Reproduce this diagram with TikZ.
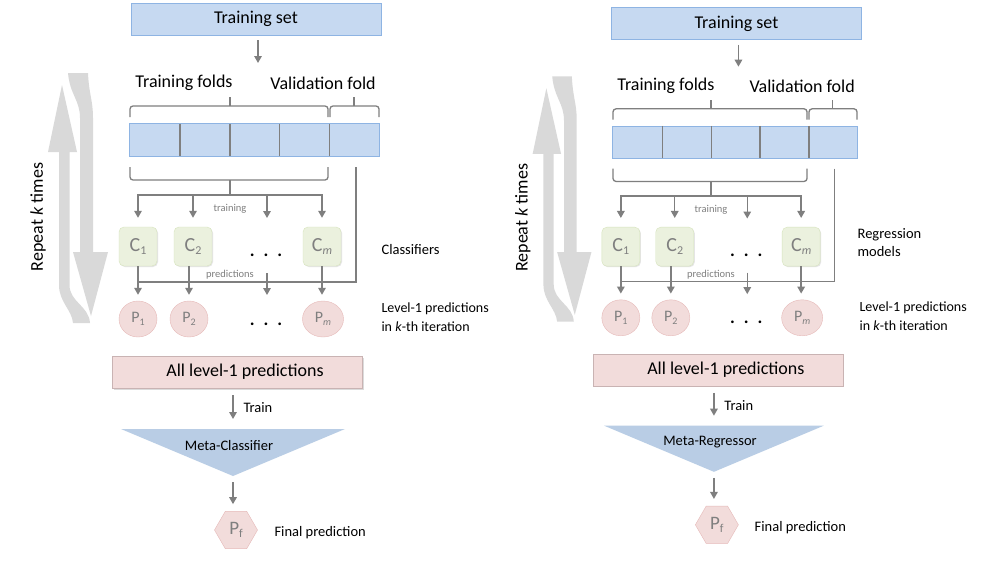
\documentclass[tikz,border=0pt]{standalone}
\usepackage{fontspec}
\setmainfont{Carlito}
\usetikzlibrary{arrows.meta,shapes.geometric,shadows}
\definecolor{tsfill}{HTML}{C6D9F1}
\definecolor{tsdraw}{HTML}{8EB4E3}
\definecolor{lgray}{HTML}{7F7F7F}
\definecolor{cfill}{HTML}{EBF1DE}
\definecolor{cdraw}{HTML}{D7E4BD}
\definecolor{pfill}{HTML}{F2DCDB}
\definecolor{pdraw}{HTML}{E6B9B8}
\definecolor{aldraw}{HTML}{C9B3B3}
\definecolor{trifill}{HTML}{B9CDE5}
\definecolor{loopgray}{HTML}{D9D9D9}
\newcommand\pfs[1]{\fontsize{#1}{#1}\selectfont}
\newcommand\lowsub[2]{\raisebox{-0.35ex}{\fontsize{#1}{#1}\selectfont #2}}
\tikzset{
  bluebox/.style={draw=tsdraw, fill=tsfill, line width=0.8pt, minimum height=32pt, inner sep=0pt},
  cellbox/.style={fill=tsfill, minimum width=49.8pt, minimum height=32pt, inner sep=0pt},
  clsbox/.style={draw=cdraw, fill=cfill, rounded corners=5pt, minimum width=38pt, minimum height=39pt, inner sep=0pt, text=lgray, font=\pfs{20},
     drop shadow={shadow xshift=1pt, shadow yshift=-1pt, fill=black!25, opacity=0.4}},
  predell/.style={ellipse, draw=pdraw, fill=pfill, minimum width=38pt, minimum height=36pt, inner sep=0pt, text=lgray, font=\pfs{16}},
  albox/.style={draw=aldraw, fill=pfill, minimum width=250pt, minimum height=32pt, inner sep=0pt, font=\pfs{18},
     drop shadow={shadow xshift=1.5pt, shadow yshift=-1.5pt, fill=black!35, opacity=0.4}},
  hexa/.style={regular polygon, regular polygon sides=6, minimum size=43pt, inner sep=0pt, draw=pdraw, fill=pfill, text=lgray, font=\pfs{19}},
  arr/.style={draw=lgray, line width=1.5pt, -{Triangle[width=7.5pt,length=7pt]}},
  gline/.style={draw=lgray, line width=1.5pt},
  bracepath/.style={draw=lgray, line width=1.3pt, rounded corners=3pt},
  divider/.style={draw=lgray, line width=1.6pt},
  smalllab/.style={text=lgray, font=\pfs{10.5}},
  midlab/.style={font=\pfs{14.5}},
  biglab/.style={font=\pfs{18}},
  dotrow/.style={font=\pfs{18}\bfseries, inner sep=0pt}
}
\newcommand\stackpanel[2]{%
  % repeat loop arrow
  \fill[loopgray] (62,85) -- (77,152) -- (69.5,152) -- (69.5,285)
     .. controls (69.5,302) and (89,306) .. (90,323) -- (73,323)
     .. controls (72,310) and (59,302) .. (59,285) -- (59,152) -- (48,152) -- cycle;
  \fill[loopgray] (68,73) -- (88,73) .. controls (89,95) and (93,100) .. (93,118)
     -- (93,252) -- (108,252) -- (91,316) -- (73,252) -- (80,252) -- (80,118)
     .. controls (80,100) and (70,95) .. (68,73) -- cycle;
  \node[rotate=90, biglab] (#1rep) at (38,217) {Repeat \textit{k} times};
  % training set
  \node[bluebox, minimum width=250pt, biglab] (#1ts) at (256,19) {Training set};
  \coordinate (#1ta) at (258,63);
  \draw[arr, shorten <=5pt] (#1ts.south -| #1ta) -- (#1ta);
  \node[biglab] (#1tf) at (184,83) {Training folds};
  \node[biglab] (#1vf) at (323,83) {Validation fold};
  % top braces
  \draw[bracepath] (130,117) -- (130,106) -- (328,106) -- (328,117);
  \draw[bracepath] (230,106) -- (230,97);
  \draw[bracepath] (330,117) -- (330,106) -- (379,106) -- (379,117);
  \draw[bracepath] (354,106) -- (354,97);
  % folds
  \foreach \i/\x in {1/154.9,2/204.7,3/254.5,4/304.3,5/354.1}
    \node[cellbox] (#1f\i) at (\x,140) {};
  \draw[tsdraw, line width=0.8pt] (#1f1.north west) rectangle (#1f5.south east);
  \foreach \i in {1,2,3,4}
    \draw[divider] (#1f\i.north east) -- (#1f\i.south east);
  % bottom brace
  \draw[bracepath] (130,167) -- (130,180) -- (328,180) -- (328,167);
  \draw[gline] (230,180) -- (230,195);
  \coordinate (#1bt) at (230,195);
  % classifiers
  \node[clsbox] (#1c1) at (138,246.5) {C\lowsub{12}{1}};
  \node[clsbox] (#1c2) at (193,246.5) {C\lowsub{12}{2}};
  \node[clsbox] (#1cm) at (322,246.5) {C\lowsub{12}{\textit{m}}};
  \node[dotrow] (#1d1) at (266,255) {.\hspace{9pt}.\hspace{9pt}.};
  \coordinate (#1dt) at (267,227);
  \draw[arr, shorten >=9pt] (#1bt) -| (#1c1.north);
  \draw[arr, shorten >=9pt] (#1bt) -| (#1c2.north);
  \draw[arr, shorten >=9pt] (#1bt) -| (#1dt);
  \draw[arr, shorten >=9pt] (#1bt) -| (#1cm.north);
  \node[smalllab] (#1trl) at (230,209) {training};
  % level-1 predictions
  \node[predell] (#1p1) at (138,319) {P\lowsub{10}{1}};
  \node[predell] (#1p2) at (189,319) {P\lowsub{10}{2}};
  \node[predell, minimum width=41pt] (#1pm) at (323,319) {P\lowsub{10}{\textit{m}}};
  \node[dotrow] (#1d2) at (266,324) {.\hspace{9pt}.\hspace{9pt}.};
  \coordinate (#1vt) at (356,167);
  \draw[gline] (#1vt) |- (#1c1.south |- 0,282);
  \draw[arr, shorten >=6pt] (#1c1.south) -- (#1p1.north);
  \draw[arr, shorten >=6pt] (#1p2.north |- #1c2.south) -- (#1p2.north);
  \draw[arr, shorten >=6pt] (#1cm.south) -- (#1cm.south |- #1pm.north);
  \coordinate (#1dm) at (267,273);
  \coordinate (#1db) at (267,301);
  \draw[arr, shorten >=6pt] (#1dm) -- (#1db);
  \node[smalllab] (#1prl) at (230,275) {predictions};
  \node[anchor=west, align=left, font={\fontsize{14}{19}\selectfont}] (#1lv) at (378,317)
     {Level-1 predictions\\in \textit{k}-th iteration};
  % meta level
  \node[albox] (#1al) at (237,372) {\hspace{16pt}All level-1 predictions};
  \fill[trifill] (121,429) -- (345,429) -- (233,476) -- cycle;
  \coordinate (#1tt) at (233,429);
  \coordinate (#1tb) at (233,476);
  \node[midlab] (#1meta) at (229,446) {#2};
  \draw[arr, shorten <=7pt, shorten >=10pt] (#1al.south -| #1tt) -- (#1tt);
  \node[anchor=west, midlab] (#1train) at (240,408) {Train};
  \node[hexa] (#1pf) at (236,530) {P\lowsub{12}{f}};
  \draw[arr, shorten <=6pt, shorten >=7pt] (#1tb) -- (#1tb |- #1pf.north);
  \node[anchor=west, midlab] (#1fp) at (271,533) {Final prediction};
}
\begin{document}
\begin{tikzpicture}[x=1pt,y=-1pt]
  \fill[white] (0,0) rectangle (984,565);
  \useasboundingbox (0,0) rectangle (984,565);
  \stackpanel{L}{Meta-Classifier}
  \node[anchor=west, midlab] (Lcls) at (378,250) {Classifiers};
  \begin{scope}[shift={(485.6,4.86)}, xscale=0.98, yscale=0.981]
    \stackpanel{R}{Meta-Regressor}
    \node[anchor=west, align=left, font={\fontsize{14.5}{18}\selectfont}] (Rcls) at (376,242) {Regression\\models};
  \end{scope}
\end{tikzpicture}
\end{document}
